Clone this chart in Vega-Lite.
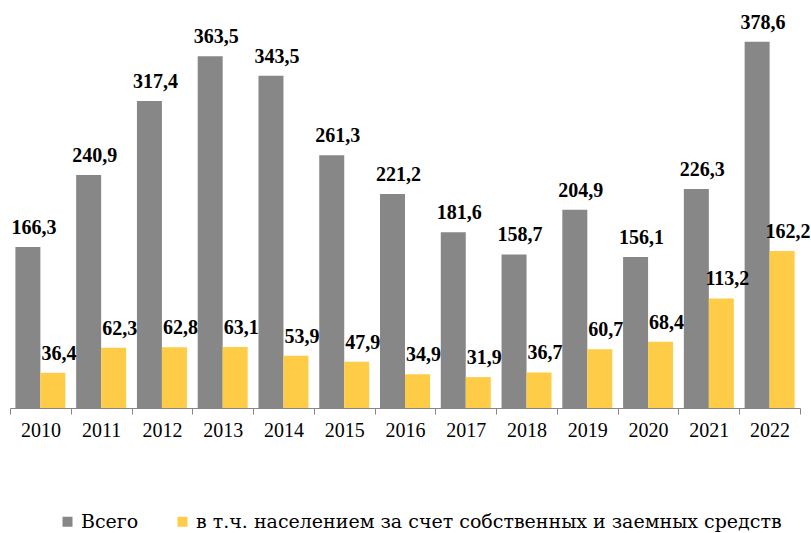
{
  "$schema": "https://vega.github.io/schema/vega-lite/v6.json",
  "width": 790,
  "height": 387,
  "autosize": "none",
  "padding": {"left": 10, "top": 21, "right": 11, "bottom": 125},
  "background": "white",
  "config": {
    "view": {"stroke": null},
    "font": "Liberation Serif",
    "locale": {"number": {"decimal": ",", "thousands": " ", "grouping": [3], "currency": ["", ""]}}
  },
  "data": {
    "values": [
      {"year": "2010", "series": "Всего", "value": 166.3},
      {"year": "2011", "series": "Всего", "value": 240.9},
      {"year": "2012", "series": "Всего", "value": 317.4},
      {"year": "2013", "series": "Всего", "value": 363.5},
      {"year": "2014", "series": "Всего", "value": 343.5},
      {"year": "2015", "series": "Всего", "value": 261.3},
      {"year": "2016", "series": "Всего", "value": 221.2},
      {"year": "2017", "series": "Всего", "value": 181.6},
      {"year": "2018", "series": "Всего", "value": 158.7},
      {"year": "2019", "series": "Всего", "value": 204.9},
      {"year": "2020", "series": "Всего", "value": 156.1},
      {"year": "2021", "series": "Всего", "value": 226.3},
      {"year": "2022", "series": "Всего", "value": 378.6},
      {"year": "2010", "series": "в т.ч. населением за счет собственных и заемных средств", "value": 36.4},
      {"year": "2011", "series": "в т.ч. населением за счет собственных и заемных средств", "value": 62.3},
      {"year": "2012", "series": "в т.ч. населением за счет собственных и заемных средств", "value": 62.8},
      {"year": "2013", "series": "в т.ч. населением за счет собственных и заемных средств", "value": 63.1},
      {"year": "2014", "series": "в т.ч. населением за счет собственных и заемных средств", "value": 53.9},
      {"year": "2015", "series": "в т.ч. населением за счет собственных и заемных средств", "value": 47.9},
      {"year": "2016", "series": "в т.ч. населением за счет собственных и заемных средств", "value": 34.9},
      {"year": "2017", "series": "в т.ч. населением за счет собственных и заемных средств", "value": 31.9},
      {"year": "2018", "series": "в т.ч. населением за счет собственных и заемных средств", "value": 36.7},
      {"year": "2019", "series": "в т.ч. населением за счет собственных и заемных средств", "value": 60.7},
      {"year": "2020", "series": "в т.ч. населением за счет собственных и заемных средств", "value": 68.4},
      {"year": "2021", "series": "в т.ч. населением за счет собственных и заемных средств", "value": 113.2},
      {"year": "2022", "series": "в т.ч. населением за счет собственных и заемных средств", "value": 162.2}
    ]
  },
  "encoding": {
    "x": {
      "field": "year",
      "type": "nominal",
      "scale": {"paddingInner": 0, "paddingOuter": 0},
      "axis": {
        "title": null,
        "labelAngle": 0,
        "labelFontSize": 20,
        "labelColor": "#000000",
        "labelPadding": 6,
        "tickBand": "extent",
        "tickSize": 6,
        "tickColor": "#868686",
        "domainColor": "#868686",
        "grid": false
      }
    },
    "xOffset": {
      "field": "series",
      "type": "nominal",
      "sort": ["Всего", "в т.ч. населением за счет собственных и заемных средств"],
      "scale": {"paddingInner": 0, "paddingOuter": 0.216}
    },
    "y": {
      "field": "value",
      "type": "quantitative",
      "scale": {"domain": [0, 400]},
      "axis": null
    }
  },
  "layer": [
    {
      "mark": {"type": "bar"},
      "encoding": {
        "color": {
          "field": "series",
          "type": "nominal",
          "scale": {
            "domain": ["Всего", "в т.ч. населением за счет собственных и заемных средств"],
            "range": ["#878787", "#FFCC47"]
          },
          "legend": {
            "title": null,
            "orient": "none",
            "legendX": 48,
            "legendY": 491,
            "direction": "horizontal",
            "symbolType": "square",
            "symbolSize": 100,
            "symbolStrokeWidth": 0,
            "labelFont": "DejaVu Serif",
            "labelFontSize": 19,
            "labelColor": "#000000",
            "labelOffset": 4,
            "columnPadding": 34,
            "labelLimit": 750
          }
        }
      }
    },
    {
      "mark": {"type": "text", "baseline": "bottom", "dy": -9, "dx": 6, "fontSize": 20, "fontWeight": "bold", "color": "#000000"},
      "encoding": {
        "text": {"field": "value", "type": "quantitative", "format": ".1f"}
      }
    }
  ]
}
